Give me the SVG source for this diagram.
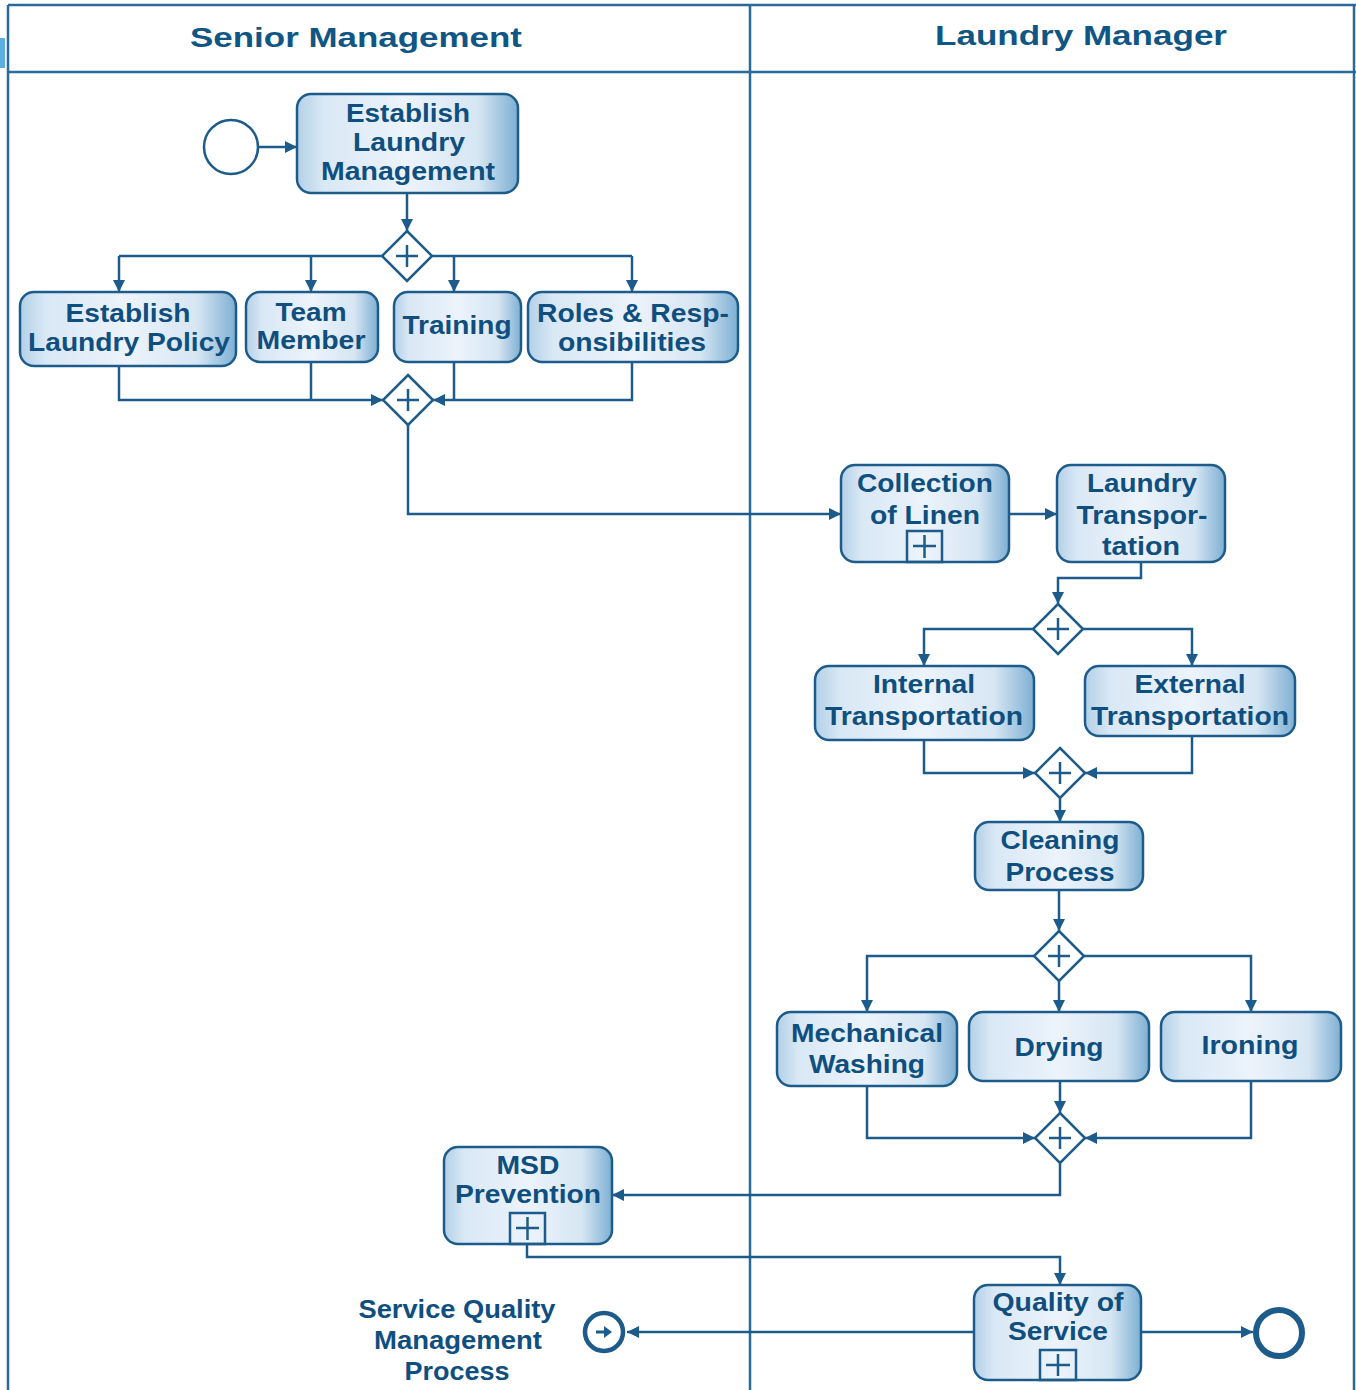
<svg xmlns="http://www.w3.org/2000/svg" width="1356" height="1390" viewBox="0 0 1356 1390">
  <defs>
    <linearGradient id="taskFill" x1="0" y1="0" x2="1" y2="0">
      <stop offset="0" stop-color="#b3d0e7"/>
      <stop offset="0.12" stop-color="#d9e8f5"/>
      <stop offset="0.5" stop-color="#ecf3fb"/>
      <stop offset="0.82" stop-color="#d6e6f3"/>
      <stop offset="1" stop-color="#7eafd3"/>
    </linearGradient>
    <marker id="arrow" viewBox="0 0 10 10" refX="10" refY="5" markerWidth="12" markerHeight="12" markerUnits="userSpaceOnUse" orient="auto">
      <path d="M0,0 L10,5 L0,10 z" fill="#1d5c8a"/>
    </marker>
  </defs>
  <style>
    .lane { fill: none; stroke: #2a6a98; stroke-width: 2.5; }
    .title { font-family: "Liberation Sans", Arial, sans-serif; font-weight: bold; font-size: 27px; fill: #105685; text-anchor: middle; }
    .task { fill: url(#taskFill); stroke: #1d5c8a; stroke-width: 2.5; }
    .t { font-family: "Liberation Sans", Arial, sans-serif; font-weight: bold; font-size: 25px; fill: #0f4f7f; text-anchor: middle; }
    .gw { fill: #ffffff; stroke: #1d5c8a; stroke-width: 2.5; }
    .plus { fill: none; stroke: #1d5c8a; stroke-width: 2.5; }
    .sub { fill: none; stroke: #1d5c8a; stroke-width: 2.5; }
    .flow { fill: none; stroke: #1d5c8a; stroke-width: 2.5; }
    .arr { marker-end: url(#arrow); }
    .event { fill: #ffffff; stroke: #1d5c8a; }
  </style>

  <rect width="1356" height="1390" fill="#ffffff"/>

  <!-- Swimlanes -->
  <g id="lanes">
    <rect x="0" y="38" width="5" height="30" fill="#5aaee0"/>
    <line class="lane" x1="8" y1="5" x2="1356" y2="5"/>
    <line class="lane" x1="8" y1="5" x2="8" y2="1390"/>
    <line class="lane" x1="1354" y1="5" x2="1354" y2="1390"/>
    <line class="lane" x1="750" y1="5" x2="750" y2="1390"/>
    <line class="lane" x1="8" y1="72" x2="1356" y2="72"/>
    <text class="title" x="356" y="47" textLength="332" lengthAdjust="spacingAndGlyphs">Senior Management</text>
    <text class="title" x="1081" y="45" textLength="292" lengthAdjust="spacingAndGlyphs">Laundry Manager</text>
  </g>

  <!-- Connectors -->
  <g id="connectors">
    <path class="flow arr" d="M258,147 H297"/>
    <path class="flow arr" d="M407,193 V231"/>
    <path class="flow" d="M382,256 H119"/>
    <path class="flow" d="M432,256 H632"/>
    <path class="flow arr" d="M119,256 V292"/>
    <path class="flow arr" d="M311,256 V292"/>
    <path class="flow arr" d="M454,256 V292"/>
    <path class="flow arr" d="M632,256 V292"/>
    <path class="flow arr" d="M119,366 V400 H383"/>
    <path class="flow" d="M311,362 V400"/>
    <path class="flow arr" d="M632,362 V400 H433"/>
    <path class="flow" d="M454,362 V400"/>
    <path class="flow arr" d="M408,425 V514 H841"/>
    <path class="flow arr" d="M1009,514 H1057"/>
    <path class="flow arr" d="M1141,562 V578 H1058 V604"/>
    <path class="flow arr" d="M1033,629 H924 V666"/>
    <path class="flow arr" d="M1083,629 H1192 V666"/>
    <path class="flow arr" d="M924,740 V773 H1035"/>
    <path class="flow arr" d="M1192,736 V773 H1085"/>
    <path class="flow arr" d="M1060,798 V822"/>
    <path class="flow arr" d="M1059,890 V931"/>
    <path class="flow arr" d="M1034,956 H867 V1012"/>
    <path class="flow arr" d="M1059,981 V1012"/>
    <path class="flow arr" d="M1084,956 H1251 V1012"/>
    <path class="flow arr" d="M867,1086 V1138 H1035"/>
    <path class="flow arr" d="M1060,1081 V1113"/>
    <path class="flow arr" d="M1251,1081 V1138 H1085"/>
    <path class="flow arr" d="M1060,1163 V1195 H612"/>
    <path class="flow arr" d="M527,1244 V1257 H1060 V1285"/>
    <path class="flow arr" d="M1141,1332 H1253"/>
    <path class="flow arr" d="M974,1332 H627"/>
  </g>

  <!-- Events -->
  <g id="start">
    <circle class="event" cx="231" cy="147" r="27" stroke-width="2.5"/>
  </g>
  <g id="end">
    <circle class="event" cx="1279" cy="1333" r="23" stroke-width="6"/>
  </g>
  <g id="link-event">
    <circle class="event" cx="604" cy="1332" r="19" stroke-width="4.5"/>
    <path d="M596,1332 H606" stroke="#1d5c8a" stroke-width="3" fill="none"/>
    <path d="M604,1326 L612,1332 L604,1338 z" fill="#1d5c8a"/>
  </g>
  <g id="link-label">
    <text class="t" x="457" y="1318" textLength="197" lengthAdjust="spacingAndGlyphs">Service Quality</text>
    <text class="t" x="458" y="1349" textLength="168" lengthAdjust="spacingAndGlyphs">Management</text>
    <text class="t" x="457" y="1380" textLength="105" lengthAdjust="spacingAndGlyphs">Process</text>
  </g>

  <!-- Gateways -->
  <g id="gw1">
    <path class="gw" d="M407,231 L432,256 L407,281 L382,256 z"/>
    <path class="plus" d="M396,256 H418 M407,245 V267"/>
  </g>
  <g id="gw2">
    <path class="gw" d="M408,375 L433,400 L408,425 L383,400 z"/>
    <path class="plus" d="M397,400 H419 M408,389 V411"/>
  </g>
  <g id="gw3">
    <path class="gw" d="M1058,604 L1083,629 L1058,654 L1033,629 z"/>
    <path class="plus" d="M1047,629 H1069 M1058,618 V640"/>
  </g>
  <g id="gw4">
    <path class="gw" d="M1060,748 L1085,773 L1060,798 L1035,773 z"/>
    <path class="plus" d="M1049,773 H1071 M1060,762 V784"/>
  </g>
  <g id="gw5">
    <path class="gw" d="M1059,931 L1084,956 L1059,981 L1034,956 z"/>
    <path class="plus" d="M1048,956 H1070 M1059,945 V967"/>
  </g>
  <g id="gw6">
    <path class="gw" d="M1060,1113 L1085,1138 L1060,1163 L1035,1138 z"/>
    <path class="plus" d="M1049,1138 H1071 M1060,1127 V1149"/>
  </g>

  <!-- Tasks -->
  <g id="establish-management">
    <rect class="task" x="297" y="94" width="221" height="99" rx="14"/>
    <text class="t" x="408" y="122" textLength="124" lengthAdjust="spacingAndGlyphs">Establish</text>
    <text class="t" x="409" y="151" textLength="112" lengthAdjust="spacingAndGlyphs">Laundry</text>
    <text class="t" x="408" y="180" textLength="174" lengthAdjust="spacingAndGlyphs">Management</text>
  </g>
  <g id="establish-policy">
    <rect class="task" x="20" y="292" width="216" height="74" rx="14"/>
    <text class="t" x="128" y="322" textLength="125" lengthAdjust="spacingAndGlyphs">Establish</text>
    <text class="t" x="129" y="351" textLength="202" lengthAdjust="spacingAndGlyphs">Laundry Policy</text>
  </g>
  <g id="team-member">
    <rect class="task" x="246" y="292" width="132" height="70" rx="14"/>
    <text class="t" x="311" y="321" textLength="71" lengthAdjust="spacingAndGlyphs">Team</text>
    <text class="t" x="311" y="349" textLength="109" lengthAdjust="spacingAndGlyphs">Member</text>
  </g>
  <g id="training">
    <rect class="task" x="394" y="292" width="127" height="70" rx="14"/>
    <text class="t" x="457" y="334" textLength="109" lengthAdjust="spacingAndGlyphs">Training</text>
  </g>
  <g id="roles">
    <rect class="task" x="528" y="292" width="210" height="70" rx="14"/>
    <text class="t" x="633" y="322" textLength="192" lengthAdjust="spacingAndGlyphs">Roles &amp; Resp-</text>
    <text class="t" x="632" y="351" textLength="148" lengthAdjust="spacingAndGlyphs">onsibilities</text>
  </g>
  <g id="collection">
    <rect class="task" x="841" y="465" width="168" height="97" rx="14"/>
    <text class="t" x="925" y="492" textLength="136" lengthAdjust="spacingAndGlyphs">Collection</text>
    <text class="t" x="925" y="524" textLength="110" lengthAdjust="spacingAndGlyphs">of Linen</text>
    <rect class="sub" x="907" y="531" width="35" height="31"/>
    <path class="plus" d="M913,546 H936 M924.5,535 V558"/>
  </g>
  <g id="laundry-transport">
    <rect class="task" x="1057" y="465" width="168" height="97" rx="14"/>
    <text class="t" x="1142" y="492" textLength="110" lengthAdjust="spacingAndGlyphs">Laundry</text>
    <text class="t" x="1142" y="524" textLength="131" lengthAdjust="spacingAndGlyphs">Transpor-</text>
    <text class="t" x="1141" y="555" textLength="78" lengthAdjust="spacingAndGlyphs">tation</text>
  </g>
  <g id="internal">
    <rect class="task" x="815" y="666" width="219" height="74" rx="14"/>
    <text class="t" x="924" y="693" textLength="102" lengthAdjust="spacingAndGlyphs">Internal</text>
    <text class="t" x="924" y="725" textLength="198" lengthAdjust="spacingAndGlyphs">Transportation</text>
  </g>
  <g id="external">
    <rect class="task" x="1085" y="666" width="210" height="70" rx="14"/>
    <text class="t" x="1190" y="693" textLength="111" lengthAdjust="spacingAndGlyphs">External</text>
    <text class="t" x="1190" y="725" textLength="198" lengthAdjust="spacingAndGlyphs">Transportation</text>
  </g>
  <g id="cleaning">
    <rect class="task" x="975" y="822" width="168" height="68" rx="14"/>
    <text class="t" x="1060" y="849" textLength="119" lengthAdjust="spacingAndGlyphs">Cleaning</text>
    <text class="t" x="1060" y="881" textLength="109" lengthAdjust="spacingAndGlyphs">Process</text>
  </g>
  <g id="washing">
    <rect class="task" x="777" y="1012" width="180" height="74" rx="14"/>
    <text class="t" x="867" y="1042" textLength="152" lengthAdjust="spacingAndGlyphs">Mechanical</text>
    <text class="t" x="867" y="1073" textLength="116" lengthAdjust="spacingAndGlyphs">Washing</text>
  </g>
  <g id="drying">
    <rect class="task" x="969" y="1012" width="180" height="69" rx="14"/>
    <text class="t" x="1059" y="1056" textLength="89" lengthAdjust="spacingAndGlyphs">Drying</text>
  </g>
  <g id="ironing">
    <rect class="task" x="1161" y="1012" width="180" height="69" rx="14"/>
    <text class="t" x="1250" y="1054" textLength="97" lengthAdjust="spacingAndGlyphs">Ironing</text>
  </g>
  <g id="msd">
    <rect class="task" x="444" y="1147" width="168" height="97" rx="14"/>
    <text class="t" x="528" y="1174" textLength="63" lengthAdjust="spacingAndGlyphs">MSD</text>
    <text class="t" x="528" y="1203" textLength="146" lengthAdjust="spacingAndGlyphs">Prevention</text>
    <rect class="sub" x="510" y="1213" width="35" height="31"/>
    <path class="plus" d="M516,1228 H539 M527.5,1217 V1240"/>
  </g>
  <g id="quality">
    <rect class="task" x="974" y="1285" width="167" height="95" rx="14"/>
    <text class="t" x="1058" y="1311" textLength="131" lengthAdjust="spacingAndGlyphs">Quality of</text>
    <text class="t" x="1058" y="1340" textLength="100" lengthAdjust="spacingAndGlyphs">Service</text>
    <rect class="sub" x="1040" y="1350" width="36" height="30"/>
    <path class="plus" d="M1046,1365 H1070 M1058,1354 V1376"/>
  </g>
</svg>
